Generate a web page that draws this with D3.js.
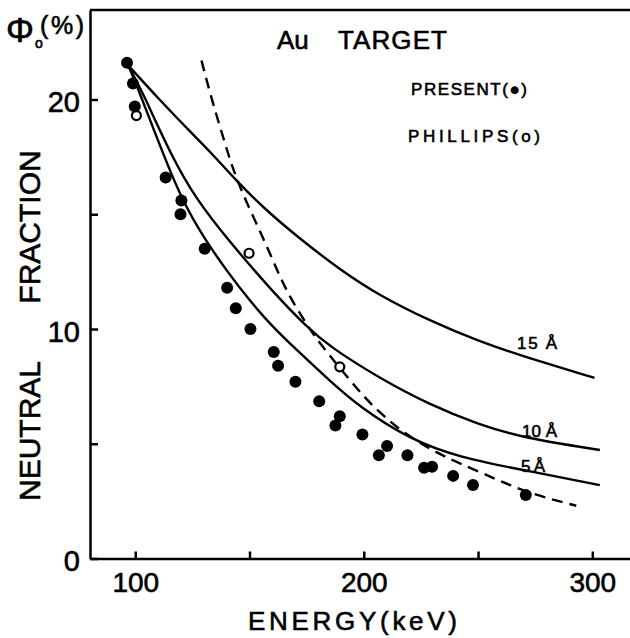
<!DOCTYPE html>
<html>
<head>
<meta charset="utf-8">
<script src="https://cdn.jsdelivr.net/npm/d3@7"></script>
<style>
    body { margin: 0; background: #fff; }
    svg { display: block; }
    text { font-family: "Liberation Sans", Arial, sans-serif; fill: #000; stroke: #000; stroke-width: 0.6px; }
</style>
</head>
<body>
<div id="chart"></div>
<script>
// Données : [énergie keV, fraction neutre %]
const presentData = [
    [96.4, 21.6], [99.0, 20.7], [99.8, 19.7], [113.3, 16.6], [120.2, 15.6],
    [119.8, 15.0], [130.4, 13.5], [140.2, 11.8], [144.0, 10.9], [150.4, 10.0],
    [160.6, 9.0], [162.5, 8.4], [170.1, 7.7], [180.5, 6.85], [189.5, 6.2],
    [187.6, 5.8], [199.4, 5.4], [210.2, 4.9], [206.6, 4.5], [219.1, 4.5],
    [226.4, 3.95], [229.9, 4.0], [239.1, 3.6], [247.8, 3.2], [270.9, 2.77]
];
const phillipsData = [[100.5, 19.3], [149.8, 13.3], [189.5, 8.35]];

const curve15A = [
    [96.8, 21.5], [110, 20.05], [125, 18.5], [132.6, 17.75], [144.3, 16.45],
    [155.9, 15.3], [170.5, 14.05], [190, 12.55], [207, 11.45], [229, 10.35],
    [250.7, 9.45], [270, 8.8], [301, 7.87]
];
const curve10A = [
    [96.8, 21.5], [100, 20.9], [103.4, 20.27], [115.5, 17.6], [126.8, 15.62],
    [141.4, 13.8], [148.7, 12.95], [160, 11.65], [174.9, 10.1], [185.1, 9.23],
    [207, 7.85], [228.9, 6.7], [250, 5.85], [270, 5.25], [303.3, 4.73]
];
const curve5A = [
    [96.8, 21.5], [100, 20.8], [111.5, 17.8], [120.5, 15.6], [130.4, 13.9],
    [141.4, 12.35], [150, 11.25], [160, 10.1], [170.5, 9.1], [185, 7.75],
    [198.2, 6.6], [220, 5.2], [242, 4.4], [270, 3.85], [303.3, 3.2]
];
const dashedCurve = [
    [129, 21.7], [132.6, 20.3], [139.2, 18.1], [144.5, 16.4], [155.9, 14.0],
    [163.2, 12.3], [167.6, 11.4], [175.6, 10.1], [181, 9.35], [189.5, 8.3],
    [197.5, 7.35], [203.4, 6.7], [210, 6.1], [217.2, 5.5], [230, 4.7],
    [241.8, 4.15], [258, 3.45], [271, 2.9], [285.8, 2.48], [293, 2.3]
];

const xTicks = [100, 150, 200, 250, 300];
const yTicks = [0, 5, 10, 15, 20];
const curveLabels = [
    { text: '15 Å', x: 517, y: 349, len: 40 },
    { text: '10 Å', x: 522, y: 437, len: 35 },
    { text: '5Å', x: 521, y: 472, len: 24 }
];

document.addEventListener('DOMContentLoaded', function() {
    renderChart();
});

function renderChart() {
    const width = 630;
    const height = 638;

    const svg = d3.select('#chart')
        .append('svg')
        .attr('width', width)
        .attr('height', height);

    // Échelles
    const x = d3.scaleLinear().domain([80.2, 316.5]).range([90, 630]);
    const y = d3.scaleLinear().domain([0, 23.9]).range([558.5, 10]);

    // Axe Y (graduations vers l'intérieur)
    const yAxis = svg.append('g')
        .attr('transform', `translate(${x(80.2)},0)`)
        .call(d3.axisLeft(y)
            .tickValues(yTicks)
            .tickSize(-8)
            .tickSizeOuter(0)
            .tickPadding(10)
            .tickFormat(d => d % 10 === 0 ? d : ''));

    // Axe X
    const xAxis = svg.append('g')
        .attr('transform', `translate(0,${y(0)})`)
        .call(d3.axisBottom(x)
            .tickValues(xTicks)
            .tickSize(-7)
            .tickSizeOuter(0)
            .tickPadding(14)
            .tickFormat(d => d % 100 === 0 ? d : ''));

    [yAxis, xAxis].forEach(ax => {
        ax.select('.domain').attr('stroke', '#000').attr('stroke-width', 2.5);
        ax.selectAll('.tick line').attr('stroke', '#000').attr('stroke-width', 2.5);
        ax.selectAll('.tick text')
            .attr('fill', '#000')
            .style('font-family', '"Liberation Sans", Arial, sans-serif');
    });
    yAxis.selectAll('.tick text').attr('font-size', 29).attr('dy', '0.42em');
    xAxis.selectAll('.tick text').attr('font-size', 28);

    // Cadre du haut
    svg.append('line')
        .attr('x1', x(80.2)).attr('x2', width)
        .attr('y1', y(23.9)).attr('y2', y(23.9))
        .attr('stroke', '#000')
        .attr('stroke-width', 2.5);

    // Courbes lissées
    const line = d3.line()
        .x(d => x(d[0]))
        .y(d => y(d[1]))
        .curve(d3.curveBasis);

    const curves = svg.append('g').attr('fill', 'none').attr('stroke', '#000');
    [curve15A, curve10A, curve5A].forEach(data => {
        curves.append('path')
            .attr('d', line(data))
            .attr('stroke-width', 2.4);
    });
    curves.append('path')
        .attr('d', line(dashedCurve))
        .attr('stroke-width', 2.4)
        .attr('stroke-dasharray', '11,7');

    // Points
    svg.append('g')
        .selectAll('circle')
        .data(presentData)
        .enter().append('circle')
        .attr('cx', d => x(d[0]))
        .attr('cy', d => y(d[1]))
        .attr('r', 6)
        .attr('fill', '#000');

    svg.append('g')
        .selectAll('circle')
        .data(phillipsData)
        .enter().append('circle')
        .attr('cx', d => x(d[0]))
        .attr('cy', d => y(d[1]))
        .attr('r', 4.5)
        .attr('fill', '#fff')
        .attr('stroke', '#000')
        .attr('stroke-width', 2.2);

    // Étiquettes des courbes
    svg.append('g')
        .selectAll('text')
        .data(curveLabels)
        .enter().append('text')
        .attr('x', d => d.x)
        .attr('y', d => d.y)
        .attr('font-size', 17)
        .attr('textLength', d => d.len)
        .attr('lengthAdjust', 'spacing')
        .text(d => d.text);

    // Titre et légende
    svg.append('text').attr('x', 277).attr('y', 49).attr('font-size', 26).text('Au');
    svg.append('text').attr('x', 338).attr('y', 49).attr('font-size', 26)
        .attr('textLength', 109).attr('lengthAdjust', 'spacing').text('TARGET');
    svg.append('text').attr('x', 411).attr('y', 95).attr('font-size', 17)
        .attr('textLength', 116).attr('lengthAdjust', 'spacing').text('PRESENT(●)');
    svg.append('text').attr('x', 408).attr('y', 142).attr('font-size', 17)
        .attr('textLength', 132).attr('lengthAdjust', 'spacing').text('PHILLIPS(o)');

    // Titre de l'axe Y : Φ₀(%)
    svg.append('text').attr('x', 6).attr('y', 42).attr('font-size', 35).text('Φ');
    svg.append('text').attr('x', 35).attr('y', 48).attr('font-size', 14).text('o');
    svg.append('text').attr('x', 40).attr('y', 34).attr('font-size', 25)
        .attr('textLength', 44).attr('lengthAdjust', 'spacing').text('(%)');

    svg.append('text')
        .attr('transform', 'translate(40,227) rotate(-90)')
        .attr('text-anchor', 'middle')
        .attr('font-size', 30)
        .text('FRACTION');
    svg.append('text')
        .attr('transform', 'translate(40,431) rotate(-90)')
        .attr('text-anchor', 'middle')
        .attr('font-size', 30)
        .text('NEUTRAL');

    // Titre de l'axe X
    svg.append('text')
        .attr('x', 248)
        .attr('y', 630)
        .attr('font-size', 26)
        .attr('textLength', 209)
        .attr('lengthAdjust', 'spacing')
        .text('ENERGY(keV)');
}
</script>
</body>
</html>
